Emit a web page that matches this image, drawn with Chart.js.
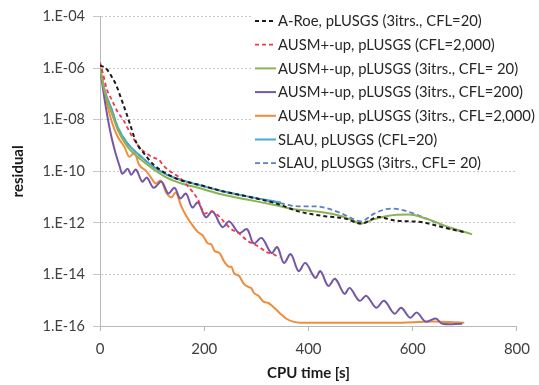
<!DOCTYPE html>
<html>
<head>
<meta charset="utf-8">
<script src="https://cdn.jsdelivr.net/npm/chart.js@4.4.0/dist/chart.umd.min.js"></script>
<style>
  html, body { margin: 0; padding: 0; background: #fff; }
  #wrap { width: 539px; height: 385px; }
</style>
</head>
<body>
<div id="wrap"><canvas id="chart"></canvas></div>
<script>
// CPU time [s] / residual pairs
const roeTime = [0, 13, 23, 32, 41, 51, 60, 69, 85, 103, 128, 156, 188, 235, 282, 338, 381, 432, 469, 501, 535, 563, 620, 657, 699];
const roeRes = [1.3e-6, 9.1e-7, 4.5e-7, 2.0e-7, 6.3e-8, 1.7e-8, 4.8e-9, 1.4e-9, 4.8e-10, 1.8e-10, 8.1e-11, 4.4e-11, 3.1e-11, 1.7e-11, 1.07e-11, 5.7e-12, 2.8e-12, 1.8e-12, 1.5e-12, 9.5e-13, 1.7e-12, 1.26e-12, 1.05e-12, 6.8e-13, 4.4e-13];

const ausm2000Time = [0, 6, 13, 23, 34, 45, 53, 62, 75, 90, 103, 113, 122, 135, 150, 169, 188, 201, 212, 225, 239, 250, 269, 282, 306, 319, 332, 344];
const ausm2000Res = [1.7e-6, 5.8e-7, 1.55e-7, 5.8e-8, 2.0e-8, 9.8e-9, 4.8e-9, 2.2e-9, 8.9e-10, 4.8e-10, 3.4e-10, 2.8e-10, 1.66e-10, 9.8e-11, 6.3e-11, 2.6e-11, 8.1e-12, 2.3e-12, 2.8e-12, 2.1e-12, 1.05e-12, 6.2e-13, 3.6e-13, 2.1e-13, 1.15e-13, 7.4e-14, 6.2e-14, 4.4e-14];

const ausm3it20Time = [0, 9, 23, 34, 53, 79, 103, 128, 156, 188, 235, 282, 338, 376, 413, 451, 479, 501, 526, 554, 592, 629, 670, 714];
const ausm3it20Res = [1.0e-6, 1.2e-7, 1.7e-8, 4.1e-9, 8.9e-10, 2.8e-10, 1.2e-10, 5.7e-11, 3.4e-11, 2.3e-11, 1.26e-11, 8.1e-12, 4.8e-12, 3.3e-12, 2.8e-12, 2.1e-12, 1.4e-12, 9.5e-13, 1.4e-12, 1.9e-12, 2.1e-12, 1.4e-12, 6.8e-13, 3.6e-13];

const ausm3it200Time = [0, 9, 19, 28, 38, 43, 53, 60, 69, 81, 90, 103, 118, 131, 143, 154, 165, 177, 188, 203, 216, 235, 248, 267, 282, 295, 310, 329, 340, 353, 366, 381, 394, 413, 423, 438, 451, 469, 479, 498, 511, 530, 545, 565, 578, 595, 608, 625, 644, 657, 695];
const ausm3it200Res = [1.0e-6, 5.8e-8, 4.1e-9, 6.9e-10, 1.5e-10, 8.1e-11, 1.26e-10, 7.4e-11, 1.17e-10, 4.0e-11, 5.7e-11, 2.3e-11, 4.0e-11, 1.38e-11, 2.3e-11, 8.9e-12, 1.38e-11, 4.0e-12, 6.2e-12, 1.66e-12, 2.8e-12, 6.8e-13, 1.15e-12, 4.0e-13, 5.7e-13, 1.6e-13, 2.6e-13, 6.8e-14, 1.15e-13, 2.8e-14, 6.2e-14, 1.35e-14, 2.8e-14, 7.4e-15, 1.35e-14, 3.6e-15, 6.8e-15, 1.78e-15, 3.0e-15, 9.5e-16, 1.48e-15, 5.1e-16, 9.5e-16, 3.0e-16, 5.1e-16, 2.1e-16, 3.3e-16, 1.48e-16, 1.95e-16, 1.23e-16, 1.23e-16];

const ausm3it2000Time = [0, 6, 15, 24, 34, 47, 56, 66, 75, 88, 98, 107, 116, 128, 137, 145, 156, 165, 175, 188, 197, 207, 213, 220, 229, 239, 248, 252, 257, 267, 276, 286, 290, 295, 304, 314, 323, 332, 344, 357, 370, 385, 469, 563, 638, 699];
const ausm3it2000Res = [1.0e-6, 2.4e-7, 3.1e-8, 6.9e-9, 2.2e-9, 8.9e-10, 3.7e-10, 5.2e-10, 1.8e-10, 1.07e-10, 5.7e-11, 3.4e-11, 4.4e-11, 1.38e-11, 9.8e-12, 1.5e-11, 4.4e-12, 1.95e-12, 9.5e-13, 4.4e-13, 3.3e-13, 1.6e-13, 1.5e-13, 8.1e-14, 6.8e-14, 3.0e-14, 2.0e-14, 2.0e-14, 1.15e-14, 8.7e-15, 4.3e-15, 3.2e-15, 3.0e-15, 1.95e-15, 1.48e-15, 8.7e-16, 7.8e-16, 5.6e-16, 3.3e-16, 1.95e-16, 1.48e-16, 1.35e-16, 1.35e-16, 1.35e-16, 1.48e-16, 1.35e-16];

const slau20Time = [0, 9, 23, 34, 53, 79, 103, 128, 156, 188, 235, 282, 347];
const slau20Res = [1.0e-6, 1.4e-7, 2.4e-8, 5.2e-9, 1.2e-9, 3.7e-10, 1.5e-10, 7.4e-11, 4.6e-11, 3.0e-11, 1.7e-11, 1.07e-11, 6.2e-12];

const slau3it20Time = [0, 9, 23, 34, 53, 79, 103, 128, 156, 188, 235, 282, 347, 381, 413, 438, 464, 501, 526, 558, 582, 625, 670, 699];
const slau3it20Res = [1.0e-6, 1.4e-7, 2.4e-8, 5.2e-9, 1.2e-9, 3.7e-10, 1.5e-10, 7.4e-11, 4.6e-11, 3.0e-11, 1.7e-11, 1.07e-11, 5.7e-12, 4.4e-12, 4.4e-12, 3.6e-12, 2.3e-12, 1.15e-12, 2.3e-12, 3.6e-12, 3.1e-12, 1.5e-12, 6.2e-13, 4.4e-13];

const seriesNames = [
  'A-Roe, pLUSGS (3itrs., CFL=20)',
  'AUSM+-up, pLUSGS (CFL=2,000)',
  'AUSM+-up, pLUSGS (3itrs., CFL= 20)',
  'AUSM+-up, pLUSGS (3itrs., CFL=200)',
  'AUSM+-up, pLUSGS (3itrs., CFL=2,000)',
  'SLAU, pLUSGS (CFL=20)',
  'SLAU, pLUSGS (3itrs., CFL= 20)'
];
const yTickValues = [1e-16, 1e-14, 1e-12, 1e-10, 1e-8, 1e-6, 1e-4];

function pairs(t, r) {
  return t.map((x, i) => ({ x: x, y: r[i] }));
}

const FONT = 'Lato, "Open Sans", sans-serif';

// legend drawn inside the plot, top right
const insideLegend = {
  id: 'insideLegend',
  afterDraw(chart) {
    const ctx = chart.ctx;
    const x0 = 255, y0 = 21, rowH = 23.7;
    ctx.save();
    ctx.fillStyle = '#fff';
    ctx.fillRect(252, 16, 287, 151);
    ctx.font = '14.8px ' + FONT;
    ctx.textBaseline = 'middle';
    chart.data.datasets.forEach((ds, i) => {
      const y = y0 + i * rowH;
      ctx.strokeStyle = ds.borderColor;
      ctx.lineWidth = ds.borderWidth;
      ctx.setLineDash(ds.borderDash || []);
      ctx.beginPath();
      ctx.moveTo(x0, y);
      ctx.lineTo(x0 + 21, y);
      ctx.stroke();
      ctx.setLineDash([]);
      ctx.fillStyle = '#262626';
      ctx.fillText(ds.label, x0 + 23, y + 0.5);
    });
    ctx.restore();
  }
};

const ctx = document.getElementById('chart').getContext('2d');

const config = {
  type: 'line',
  data: {
    datasets: [{
      label: seriesNames[0],
      data: pairs(roeTime, roeRes),
      borderColor: '#1c1c1c',
      borderWidth: 2,
      borderDash: [4, 3]
    }, {
      label: seriesNames[1],
      data: pairs(ausm2000Time, ausm2000Res),
      borderColor: '#f0384a',
      borderWidth: 1.8,
      borderDash: [4, 3]
    }, {
      label: seriesNames[2],
      data: pairs(ausm3it20Time, ausm3it20Res),
      borderColor: '#8db250',
      borderWidth: 2
    }, {
      label: seriesNames[3],
      data: pairs(ausm3it200Time, ausm3it200Res),
      borderColor: '#7458a6',
      borderWidth: 2,
      cubicInterpolationMode: 'default',
      tension: 0.35
    }, {
      label: seriesNames[4],
      data: pairs(ausm3it2000Time, ausm3it2000Res),
      borderColor: '#f08c3c',
      borderWidth: 2
    }, {
      label: seriesNames[5],
      data: pairs(slau20Time, slau20Res),
      borderColor: '#4aa8c8',
      borderWidth: 2
    }, {
      label: seriesNames[6],
      data: pairs(slau3it20Time, slau3it20Res),
      borderColor: '#5a7fc2',
      borderWidth: 1.8,
      borderDash: [5, 3]
    }]
  },
  options: {
    responsive: true,
    maintainAspectRatio: false,
    animation: false,
    layout: { padding: { top: 14, right: 13, left: 0, bottom: 0 } },
    elements: {
      point: { radius: 0 },
      line: { cubicInterpolationMode: 'monotone', fill: false }
    },
    plugins: {
      legend: { display: false },
      tooltip: { enabled: false }
    },
    scales: {
      x: {
        type: 'linear',
        min: 0,
        max: 800,
        afterFit: (s) => { s.height = 59; },
        ticks: {
          stepSize: 200,
          padding: 9,
          color: '#404040',
          font: { family: FONT, size: 15 }
        },
        grid: {
          drawOnChartArea: false,
          drawTicks: true,
          tickLength: 5,
          tickColor: '#b8b8b8'
        },
        border: { color: '#b8b8b8', width: 1 },
        title: {
          display: true,
          text: 'CPU time [s]',
          color: '#1a1a1a',
          font: { family: FONT, size: 15, weight: 'bold' },
          padding: { top: 0, bottom: 3 }
        }
      },
      y: {
        type: 'logarithmic',
        min: 1e-16,
        max: 1e-4,
        afterFit: (s) => { s.width = 100; },
        afterBuildTicks: (s) => {
          s.ticks = yTickValues.map(v => ({ value: v }));
        },
        ticks: {
          padding: 8,
          color: '#404040',
          font: { family: FONT, size: 14.5 },
          callback: (v) => {
            const e = Math.round(Math.log10(v));
            const a = Math.abs(e);
            return '1.E' + (e < 0 ? '-' : '+') + (a < 10 ? '0' + a : a);
          }
        },
        grid: {
          color: '#c8c8c8',
          lineWidth: 1,
          tickLength: 7
        },
        border: { color: '#b8b8b8', width: 1, dash: [2, 2] },
        title: {
          display: true,
          text: 'residual',
          color: '#1a1a1a',
          font: { family: FONT, size: 15, weight: 'bold' },
          padding: { top: 9, bottom: 0 }
        }
      }
    }
  },
  plugins: [insideLegend]
};

const chart = new Chart(ctx, config);
</script>
</body>
</html>
